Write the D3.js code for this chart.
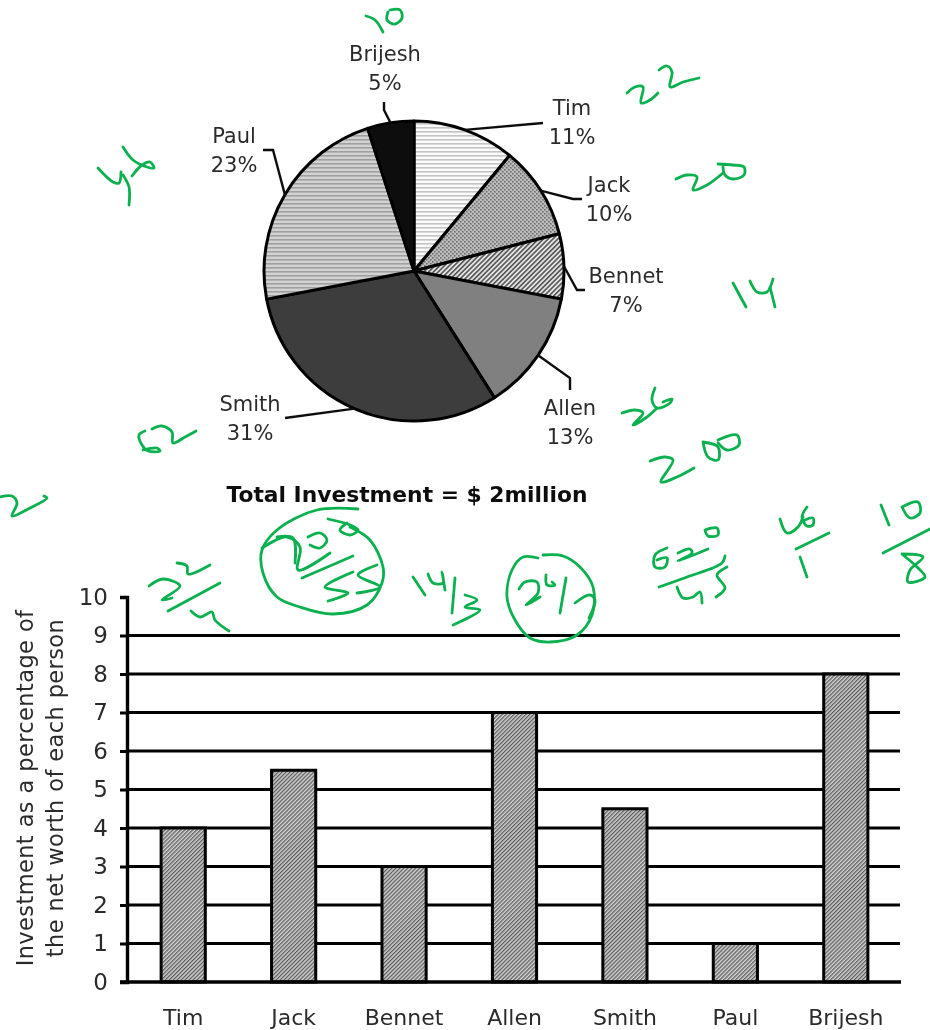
<!DOCTYPE html>
<html>
<head>
<meta charset="utf-8">
<script src="https://cdn.jsdelivr.net/npm/d3@7"></script>
<style>
  html, body { margin: 0; padding: 0; background: #fff; }
  text { font-family: "DejaVu Sans", sans-serif; fill: #2c2c2c; }
</style>
</head>
<body>
<svg id="chart" width="930" height="1030"></svg>
<script>
var people = ["Tim", "Jack", "Bennet", "Allen", "Smith", "Paul", "Brijesh"];
var investmentShare = [11, 10, 7, 13, 31, 23, 5];
var netWorthPercent = [4, 5.5, 3, 7, 4.5, 1, 8];
var yTicks = [0, 1, 2, 3, 4, 5, 6, 7, 8, 9, 10];
var pieTitle = "Total Investment = $ 2million";
var yTitle = ["Investment as a percentage of", "the net worth of each person"];

var svg = d3.select("#chart");
var defs = svg.append("defs");

defs.append("filter").attr("id", "soft")
    .attr("filterUnits", "userSpaceOnUse")
    .attr("x", 0).attr("y", 0).attr("width", 930).attr("height", 1030)
    .append("feGaussianBlur").attr("stdDeviation", 0.6);

// hatch fills
function stripes(id, bg, fg) {
    var p = defs.append("pattern").attr("id", id)
        .attr("patternUnits", "userSpaceOnUse").attr("width", 8).attr("height", 4);
    p.append("rect").attr("width", 8).attr("height", 4).attr("fill", bg);
    p.append("rect").attr("width", 8).attr("height", 1.6).attr("fill", fg);
}
function dots(id, bg, fg) {
    var p = defs.append("pattern").attr("id", id)
        .attr("patternUnits", "userSpaceOnUse").attr("width", 4).attr("height", 4);
    p.append("rect").attr("width", 4).attr("height", 4).attr("fill", bg);
    p.append("rect").attr("width", 1.6).attr("height", 1.6).attr("fill", fg);
    p.append("rect").attr("x", 2).attr("y", 2).attr("width", 1.6).attr("height", 1.6).attr("fill", fg);
}
function diagonal(id, bg, fg, size, w) {
    var p = defs.append("pattern").attr("id", id)
        .attr("patternUnits", "userSpaceOnUse").attr("width", size).attr("height", size)
        .attr("patternTransform", "rotate(45)");
    p.append("rect").attr("width", size).attr("height", size).attr("fill", bg);
    p.append("rect").attr("width", w).attr("height", size).attr("fill", fg);
}
stripes("fillTim", "#fbfbfb", "#c4c4c4");
dots("fillJack", "#bcbcbc", "#6c6c6c");
diagonal("fillBennet", "#e4e4e4", "#555", 3.4, 1.6);
stripes("fillPaul", "#d2d2d2", "#a0a0a0");
diagonal("fillBar", "#d4d4d4", "#5c5c5c", 2.8, 1.3);

var sliceFill = ["url(#fillTim)", "url(#fillJack)", "url(#fillBennet)", "#808080", "#3d3d3d", "url(#fillPaul)", "#0f0f0f"];

var chart = svg.append("g").attr("filter", "url(#soft)");

// pie
var pieX = 414, pieY = 271, pieR = 150;
var arcs = d3.pie().sort(null)(investmentShare);
var arc = d3.arc().innerRadius(0).outerRadius(pieR);
var pieG = chart.append("g").attr("transform", "translate(" + pieX + "," + pieY + ")");

pieG.selectAll("path").data(arcs).enter().append("path")
    .attr("d", arc)
    .attr("fill", function(d, i) { return sliceFill[i]; })
    .attr("stroke", "#000")
    .attr("stroke-width", 3)
    .attr("stroke-linejoin", "round");

// label spots and leader elbows, page pixels, same order as people
var pieLabelX = [572, 609, 626, 570, 250, 234, 385];
var pieLabelY = [115, 192, 283, 415, 411, 143, 61];
var leaderElbows = [
    [[543, 123]],
    [[573, 199], [582, 199]],
    [[577, 290], [585, 290]],
    [[570, 378], [570, 390]],
    [[285, 418]],
    [[273, 150], [263, 150]],
    [[384, 110], [384, 102]]
];

var leader = d3.line();
chart.selectAll("path.leader").data(arcs).enter().append("path")
    .attr("class", "leader")
    .attr("fill", "none")
    .attr("stroke", "#111")
    .attr("stroke-width", 2.4)
    .attr("d", function(d, i) {
        var mid = (d.startAngle + d.endAngle) / 2;
        var start = [pieX + pieR * Math.sin(mid), pieY - pieR * Math.cos(mid)];
        return leader([start].concat(leaderElbows[i]));
    });

var labels = chart.selectAll("g.pie-label").data(arcs).enter().append("g")
    .attr("class", "pie-label")
    .attr("text-anchor", "middle")
    .style("font-size", "21px");
labels.append("text")
    .attr("x", function(d, i) { return pieLabelX[i]; })
    .attr("y", function(d, i) { return pieLabelY[i]; })
    .text(function(d, i) { return people[i]; });
labels.append("text")
    .attr("x", function(d, i) { return pieLabelX[i]; })
    .attr("y", function(d, i) { return pieLabelY[i] + 29; })
    .text(function(d) { return d.value + "%"; });

chart.append("text")
    .attr("x", 407).attr("y", 502)
    .attr("text-anchor", "middle")
    .style("font-size", "21.8px").style("font-weight", "bold").style("fill", "#111")
    .text(pieTitle);

// bars
var x = d3.scaleBand().domain(people).range([128, 901]).paddingInner(0.6).paddingOuter(0.3);
var y = d3.scaleLinear().domain([0, 10]).range([982, 597]);

chart.append("g").selectAll("line").data(yTicks.slice(1, -1)).enter().append("line")
    .attr("x1", 127).attr("x2", 900)
    .attr("y1", function(d) { return y(d); })
    .attr("y2", function(d) { return y(d); })
    .attr("stroke", "#000")
    .attr("stroke-width", 3);

chart.append("g").selectAll("rect").data(netWorthPercent).enter().append("rect")
    .attr("x", function(d, i) { return x(people[i]); })
    .attr("y", function(d) { return y(d); })
    .attr("width", x.bandwidth())
    .attr("height", function(d) { return y(0) - y(d); })
    .attr("fill", "url(#fillBar)")
    .attr("stroke", "#000")
    .attr("stroke-width", 3);

var yAxis = chart.append("g").attr("transform", "translate(127,0)")
    .call(d3.axisLeft(y).tickValues(yTicks).tickSize(7).tickPadding(12));
yAxis.select(".domain").attr("stroke", "#000").attr("stroke-width", 3.4);
yAxis.selectAll("line").attr("stroke", "#000").attr("stroke-width", 3);
yAxis.selectAll("text").style("font-size", "23px").attr("fill", null);

var xAxis = chart.append("g").attr("transform", "translate(0,982)")
    .call(d3.axisBottom(x).tickSize(0).tickPadding(27));
xAxis.select(".domain").remove();
xAxis.append("line").attr("x1", 120).attr("x2", 901).attr("stroke", "#000").attr("stroke-width", 3.4);
xAxis.selectAll("text").style("font-size", "22px").attr("fill", null);

chart.append("g")
    .attr("transform", "translate(33,788) rotate(-90)")
    .attr("text-anchor", "middle")
    .style("font-size", "22.5px")
    .style("letter-spacing", "0.4px")
    .selectAll("text").data(yTitle).enter().append("text")
    .attr("y", function(d, i) { return i * 30; })
    .text(function(d) { return d; });

// green handwriting on top of the chart, traced stroke by stroke
var inkStrokes = [
    // 10
    [[366,16],[375,20],[383,32]],
    [[390,10],[400,10],[402,18],[395,24],[387,20],[388,12]],
    // 22
    [[627,93],[635,87],[643,87],[641,103],[650,100],[658,93]],
    [[659,70],[667,66],[672,72],[670,87],[683,82],[699,78]],
    // 20
    [[676,179],[687,175],[697,177],[693,190],[707,185],[723,173]],
    [[718,164],[733,165],[744,167],[744,175],[733,179],[725,175],[723,167]],
    // 14
    [[733,283],[746,307]],
    [[750,281],[757,292],[767,292],[773,279]],
    [[770,287],[775,307]],
    // 46
    [[98,168],[113,182],[119,183],[121,172]],
    [[123,175],[129,187],[129,205]],
    [[123,147],[133,160],[147,167],[154,168],[150,162],[142,165],[132,176]],
    // 62
    [[145,431],[139,435],[142,445],[148,451],[160,451],[157,448],[143,450]],
    [[152,429],[162,426],[172,432],[173,443],[185,437],[196,431]],
    // cut off 2 at the left edge
    [[0,497],[12,496],[17,503],[12,516],[30,508],[47,498],[44,496]],
    // 26
    [[622,413],[635,410],[643,413],[633,425],[647,417],[657,408]],
    [[655,388],[652,400],[657,408],[670,403],[672,399],[663,402]],
    // 200
    [[650,461],[665,457],[673,460],[661,482],[677,477],[694,468]],
    [[703,442],[708,457],[718,460],[718,447],[703,442]],
    [[718,440],[737,435],[739,445],[727,450],[718,443]],
    // 22/4
    [[149,586],[163,579],[180,586],[162,600],[172,598]],
    [[177,563],[187,566],[188,574],[210,565]],
    [[168,611],[220,583]],
    [[191,611],[200,617],[212,612],[215,620],[229,631]],
    // circled 200/55
    [[358,509],[317,510],[277,530],[262,550],[263,573],[277,597],[300,607],[333,614],[367,605],[382,583],[383,567],[370,540],[350,527]],
    [[262,548],[287,537],[300,547],[298,570],[330,553]],
    [[277,537],[293,538],[295,563]],
    [[308,537],[320,533],[327,540],[320,548],[310,545]],
    [[328,519],[350,525],[358,530],[350,535],[340,530],[347,523]],
    [[302,578],[353,556]],
    [[353,572],[325,587],[348,593],[328,601]],
    [[377,565],[358,575],[380,587],[357,593]],
    // 14/3
    [[413,577],[425,595]],
    [[428,574],[433,583],[443,583],[442,572],[445,590]],
    [[455,578],[452,613]],
    [[465,595],[477,600],[465,607],[480,610],[453,625]],
    // circled 26/7
    [[538,558],[523,557],[512,570],[507,597],[515,620],[530,638],[550,642],[577,635],[592,615],[593,587],[580,567],[563,556],[543,555]],
    [[519,589],[525,582],[537,582],[538,593],[526,605],[540,597]],
    [[546,575],[547,585],[555,585],[552,582]],
    [[566,578],[560,613]],
    [[575,603],[590,595],[595,600],[589,618]],
    // 620/45
    [[667,548],[655,555],[655,567],[665,567],[667,558],[657,560]],
    [[678,553],[690,549],[692,553],[678,561],[708,549]],
    [[705,530],[717,528],[718,535],[708,536],[705,530]],
    [[659,587],[687,577],[722,563],[725,556]],
    [[677,587],[683,598],[693,597],[700,592],[702,603]],
    [[727,567],[717,575],[725,588],[716,597]],
    // 46/1
    [[780,519],[787,533],[798,527],[803,517]],
    [[807,507],[802,517],[807,526],[813,525],[813,518],[805,520]],
    [[796,549],[829,533]],
    [[800,557],[807,577]],
    // 10/8
    [[881,505],[889,525]],
    [[902,507],[918,502],[920,513],[910,518],[902,507]],
    [[883,553],[930,529]],
    [[902,554],[923,557],[910,570],[908,582],[925,577],[917,567],[903,555]]
];

var ink = d3.line().curve(d3.curveCatmullRom.alpha(0.5));
svg.append("g").selectAll("path").data(inkStrokes).enter().append("path")
    .attr("d", ink)
    .attr("fill", "none")
    .attr("stroke", "#0bb04f")
    .attr("stroke-width", 2.8)
    .attr("stroke-linecap", "round")
    .attr("stroke-linejoin", "round");
</script>
</body>
</html>
